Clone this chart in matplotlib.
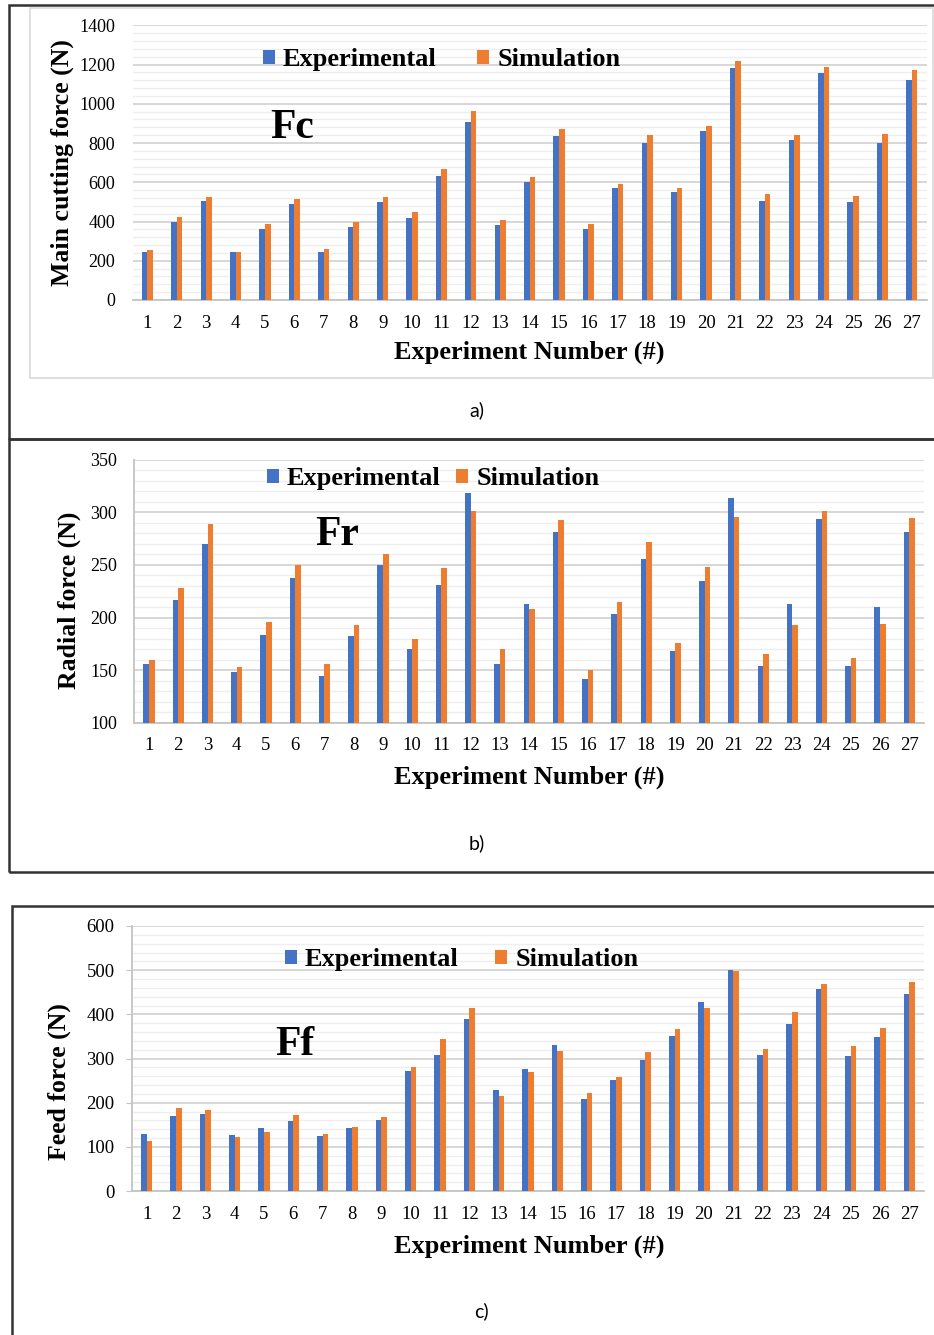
import matplotlib.pyplot as plt
import matplotlib
from matplotlib.patches import Rectangle
from matplotlib.ticker import MultipleLocator
import numpy as np

matplotlib.rcParams['font.family'] = ['Liberation Serif', 'DejaVu Serif']

W, H = 934, 1335

exp_nr = list(range(1, 28))

fc_exp = [244, 400, 505, 244, 361, 488, 244, 373, 497, 417, 632, 905, 380, 600,
          834, 364, 573, 798, 549, 859, 1181, 507, 815, 1158, 502, 798, 1122]
fc_sim = [253, 422, 524, 247, 388, 514, 259, 400, 524, 446, 666, 961, 407, 627,
          871, 388, 593, 842, 573, 888, 1219, 542, 842, 1190, 529, 844, 1173]

fr_exp = [156, 217, 270, 148, 183, 238, 144, 182, 250, 170, 231, 318, 156, 213,
          281, 142, 203, 256, 168, 235, 314, 154, 213, 294, 154, 210, 281]
fr_sim = [160, 228, 289, 153, 196, 250, 156, 193, 260, 180, 247, 301, 170, 208,
          293, 150, 215, 272, 176, 248, 296, 165, 193, 301, 162, 194, 295]

ff_exp = [129, 169, 175, 127, 142, 159, 125, 142, 161, 271, 309, 390, 228, 277,
          330, 209, 251, 297, 352, 427, 501, 309, 377, 458, 305, 348, 445]
ff_sim = [114, 188, 184, 122, 134, 172, 130, 145, 168, 280, 344, 414, 214, 269,
          316, 222, 257, 314, 366, 415, 497, 322, 405, 469, 328, 369, 473]

blue = '#4472C4'
orange = '#ED7D31'

fig = plt.figure(figsize=(W / 100, H / 100), dpi=100)


def fx(px):
    return px / W


def fy(py):
    return 1 - py / H


def box(x0, y0, x1, y1, color, lw):
    fig.add_artist(Rectangle((fx(x0), fy(y1)), fx(x1) - fx(x0), fy(y0) - fy(y1),
                             transform=fig.transFigure, fill=False, ec=color, lw=lw))


def panel(left, right, top, bottom, exp, sim, ylim, major, minor, ylabel, ylab_xy,
          xlab_y, name, name_xy, leg_xy, colspace, spines, ytick_size, ylen):
    ax = fig.add_axes([fx(left), fy(bottom), fx(right) - fx(left), (bottom - top) / H])
    x = np.array(exp_nr)
    w = 0.19
    ax.bar(x - w / 2, exp, w, color=blue, zorder=3, label='Experimental')
    ax.bar(x + w / 2, sim, w, color=orange, zorder=3, label='Simulation')
    ax.set_xlim(0.5, 27.5)
    ax.set_ylim(*ylim)
    ax.yaxis.set_major_locator(MultipleLocator(major))
    ax.yaxis.set_minor_locator(MultipleLocator(minor))
    ax.set_xticks(exp_nr)
    ax.grid(which='major', axis='y', color='#d4d4d4', lw=1.3, zorder=0)
    ax.grid(which='minor', axis='y', color='#eeeeee', lw=1.0, zorder=0)
    for s in ['top', 'right', 'left', 'bottom']:
        ax.spines[s].set_visible(s in spines)
        ax.spines[s].set_color('#c4c4c4')
        ax.spines[s].set_linewidth(1.3)
    ax.tick_params(axis='x', length=0, pad=10.5, labelsize=13.5)
    ax.tick_params(axis='y', which='major', length=ylen, color='#c4c4c4',
                   pad=12.5 - ylen, labelsize=ytick_size)
    ax.tick_params(axis='y', which='minor', length=0)
    fig.text(fx(ylab_xy[0]), fy(ylab_xy[1]), ylabel, rotation=90, ha='center',
             va='center', fontsize=18.5, fontweight='bold')
    fig.text(fx(529), fy(xlab_y), 'Experiment Number (#)', ha='center',
             va='center', fontsize=19, fontweight='bold')
    fig.text(fx(name_xy[0]), fy(name_xy[1]), name, ha='left', va='baseline',
             fontsize=30, fontweight='bold')
    ax.legend(loc='upper left', bbox_to_anchor=(fx(leg_xy[0]), fy(leg_xy[1])),
              bbox_transform=fig.transFigure, ncol=2, frameon=False,
              prop={'weight': 'bold', 'size': 19}, handlelength=0.45,
              handleheight=0.45, handletextpad=0.3, columnspacing=colspace,
              borderpad=0, borderaxespad=0)
    return ax


# outer frames
box(8.5, 5, 945, 438.5, '#333333', 1.8)
box(8.5, 438.5, 945, 872, '#333333', 1.8)
box(12, 906, 945, 1345, '#333333', 1.8)
box(30, 8, 933, 378, '#d9d9d9', 1.2)

panel(132.6, 926.6, 25.3, 300, fc_exp, fc_sim, (0, 1400), 200, 40,
      'Main cutting force (N)', (62, 163), 352, 'Fc', (270, 138), (263, 48),
      1.55, ['bottom'], 13, 0)
panel(134.4, 923.9, 459.8, 722.7, fr_exp, fr_sim, (100, 350), 50, 10,
      'Radial force (N)', (69, 600), 777, 'Fr', (315, 545), (267, 467),
      0.6, ['bottom', 'left'], 13, 0)
panel(132, 924, 926, 1191, ff_exp, ff_sim, (0, 600), 100, 20,
      'Feed force (N)', (59, 1082), 1246, 'Ff', (275, 1055), (285, 948),
      1.4, ['bottom', 'left'], 13.5, 4)

for lab, xy in [('a)', (477, 410)), ('b)', (477, 843)), ('c)', (481, 1311))]:
    fig.text(fx(xy[0]), fy(xy[1]), lab, ha='center', va='center', fontsize=14,
             family=['Lato', 'DejaVu Sans'])

fig.savefig('out.png', dpi=100)
